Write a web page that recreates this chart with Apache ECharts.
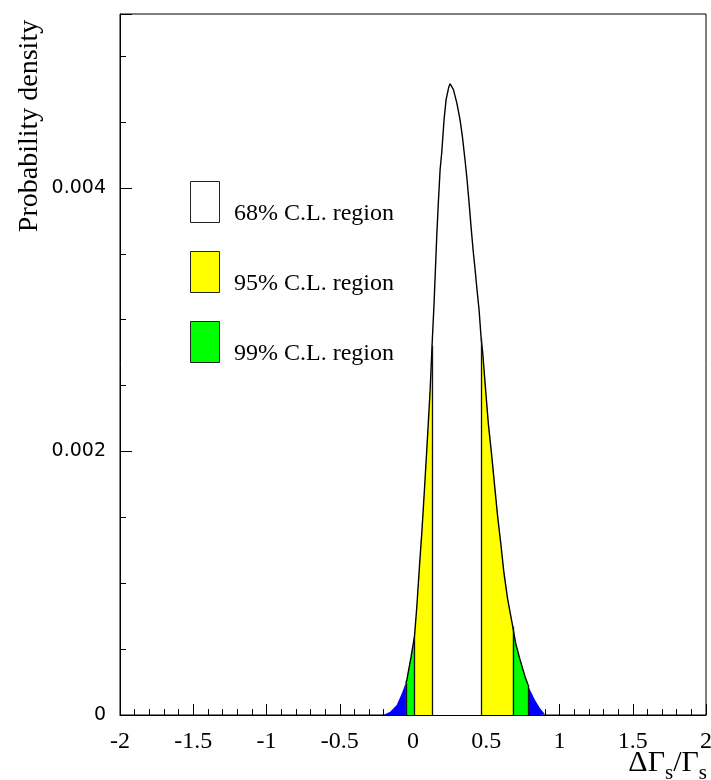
<!DOCTYPE html>
<html>
<head>
<meta charset="utf-8">
<title>Probability density of ΔΓs/Γs</title>
<script src="https://cdn.jsdelivr.net/npm/echarts@6/dist/echarts.min.js"></script>
<style>
  html, body { margin: 0; padding: 0; background: #fff; }
  #chart { width: 711px; height: 780px; }
</style>
</head>
<body>
<div id="chart"></div>
<script>
// Posterior density of ΔΓs/Γs, sampled along the curve
const deltaGamma = [
  -0.202, -0.156, -0.111, -0.076, -0.049, -0.042, -0.013, 0.010, 0.026, 0.044,
  0.060, 0.078, 0.098, 0.117, 0.130, 0.144, 0.153, 0.162, 0.173, 0.185,
  0.196, 0.212, 0.226, 0.243, 0.253, 0.264, 0.276, 0.299, 0.321, 0.337,
  0.355, 0.369, 0.383, 0.396, 0.410, 0.424, 0.437, 0.451, 0.465, 0.476,
  0.492, 0.514, 0.538, 0.560, 0.578, 0.599, 0.621, 0.647, 0.681, 0.701,
  0.731, 0.765, 0.785, 0.799, 0.833, 0.867, 0.901
];
const density = [
  0.000000, 0.000025, 0.000076, 0.000165, 0.000245, 0.000266, 0.000443, 0.000595, 0.000822, 0.001126,
  0.001382, 0.001708, 0.002088, 0.002468, 0.002800, 0.003128, 0.003379, 0.003632, 0.003888, 0.004138,
  0.004267, 0.004518, 0.004670, 0.004760, 0.004790, 0.004770, 0.004746, 0.004645, 0.004518, 0.004391,
  0.004214, 0.004062, 0.003885, 0.003708, 0.003531, 0.003379, 0.003227, 0.003075, 0.002860, 0.002746,
  0.002519, 0.002215, 0.001961, 0.001708, 0.001506, 0.001304, 0.001076, 0.000873, 0.000670, 0.000544,
  0.000418, 0.000291, 0.000230, 0.000190, 0.000114, 0.000051, 0.000005
];

// Credibility intervals [low, high]
const region68 = [0.130, 0.465];
const region95 = [0.010, 0.681];
const region99 = [-0.049, 0.785];

// Axis tick values
const xTicks = [-2, -1.5, -1, -0.5, 0, 0.5, 1, 1.5, 2];
const yTicks = [0, 0.002, 0.004];

const regionNames = ['68% C.L. region', '95% C.L. region', '99% C.L. region'];
const regionColors = ['#ffffff', '#ffff00', '#00ff00'];
const tailColor = '#0000ff';

const points = deltaGamma.map((x, i) => [x, density[i]]);
const within = (lo, hi) => points.filter(p => p[0] >= lo - 1e-9 && p[0] <= hi + 1e-9);
const densityAt = x => density[deltaGamma.findIndex(v => Math.abs(v - x) < 1e-9)];

const serif = 'Liberation Serif, Times New Roman, serif';

function areaSeries(name, data, color) {
  return {
    name: name,
    type: 'line',
    data: data,
    showSymbol: false,
    symbol: 'none',
    silent: true,
    itemStyle: { color: color },
    lineStyle: { width: 0, color: color },
    areaStyle: { color: color, opacity: 1 },
    z: 2
  };
}

const edges = [].concat(region99, region95, region68).map(x => ({
  coords: [[x, 0], [x, densityAt(x)]]
}));

// Key boxes with their labels, stacked top to bottom
const keyItems = [];
regionNames.forEach((name, i) => {
  const top = 181 + i * 70;
  keyItems.push({
    type: 'rect',
    shape: { x: 190.5, y: top + 0.5, width: 29, height: 41 },
    style: { fill: regionColors[i], stroke: '#222', lineWidth: 1 },
    silent: true
  });
  keyItems.push({
    type: 'text',
    x: 234, y: top + 33,
    style: {
      text: name, fontFamily: serif, fontSize: 24, fill: '#000',
      align: 'left', verticalAlign: 'middle'
    },
    silent: true
  });
});

const chart = echarts.init(document.getElementById('chart'), null, { renderer: 'canvas' });

chart.setOption({
  animation: false,
  backgroundColor: '#ffffff',
  grid: {
    left: 120, right: 5, top: 14, bottom: 65,
    containLabel: false,
    outerBoundsMode: 'none',
    show: true, borderColor: '#000', borderWidth: 1, backgroundColor: 'transparent'
  },
  xAxis: {
    type: 'value',
    min: xTicks[0], max: xTicks[xTicks.length - 1], interval: 0.5,
    axisLine: { show: true, onZero: false, lineStyle: { color: '#000', width: 1 } },
    axisTick: { show: true, inside: true, length: 11, lineStyle: { color: '#000' } },
    minorTick: { show: true, splitNumber: 5, length: 6, lineStyle: { color: '#000' } },
    splitLine: { show: false },
    axisLabel: {
      margin: 15, fontFamily: serif, fontSize: 24, color: '#000',
      formatter: v => String(v)
    }
  },
  yAxis: {
    type: 'value',
    min: yTicks[0], max: 0.00532, interval: 0.002,
    axisLine: { show: true, onZero: false, lineStyle: { color: '#000', width: 1 } },
    axisTick: { show: true, inside: true, length: 12, lineStyle: { color: '#000' } },
    minorTick: { show: true, splitNumber: 4, length: 6, lineStyle: { color: '#000' } },
    splitLine: { show: false },
    axisLabel: {
      margin: 14, fontFamily: 'DejaVu Sans, sans-serif', fontSize: 19, color: '#000',
      showMaxLabel: false,
      formatter: v => (yTicks.some(t => Math.abs(t - v) < 1e-12) ? String(v) : '')
    }
  },
  graphic: [
    {
      type: 'text',
      x: 30, y: 126,
      rotation: Math.PI / 2,
      style: {
        text: 'Probability density',
        fontFamily: serif, fontSize: 28, fill: '#000',
        align: 'center', verticalAlign: 'middle'
      },
      silent: true
    },
    {
      type: 'text',
      x: 707, y: 784,
      style: {
        text: '{a|ΔΓ}{s|s}{a|/Γ}{s|s}',
        align: 'right', verticalAlign: 'bottom',
        rich: {
          a: { fontFamily: serif, fontSize: 30, fill: '#000', verticalAlign: 'bottom', padding: [0, 0, 6, 0] },
          s: { fontFamily: serif, fontSize: 21, fill: '#000', verticalAlign: 'bottom' }
        }
      },
      silent: true
    }
  ].concat(keyItems),
  series: [
    areaSeries('tail', points, tailColor),
    areaSeries(regionNames[2], within(region99[0], region99[1]), regionColors[2]),
    areaSeries(regionNames[1], within(region95[0], region95[1]), regionColors[1]),
    areaSeries(regionNames[0], within(region68[0], region68[1]), regionColors[0]),
    {
      name: 'density',
      type: 'line',
      data: within(region99[0], region99[1]),
      showSymbol: false,
      symbol: 'none',
      silent: true,
      lineStyle: { color: '#000', width: 1.4 },
      z: 4
    },
    {
      name: 'bounds',
      type: 'lines',
      coordinateSystem: 'cartesian2d',
      data: edges,
      silent: true,
      lineStyle: { color: '#111', width: 1.3, opacity: 1 },
      z: 5
    }
  ]
});
</script>
</body>
</html>
